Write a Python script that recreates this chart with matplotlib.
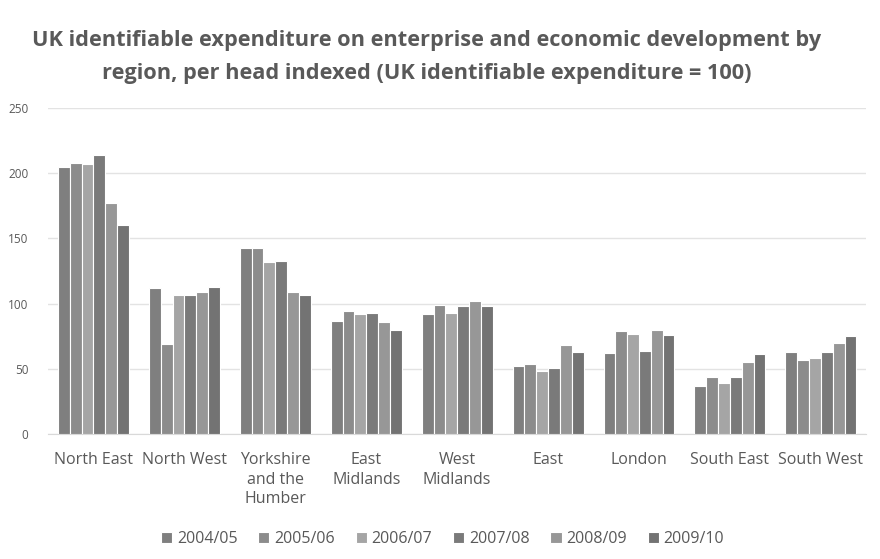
import numpy as np
import matplotlib
matplotlib.use("Agg")
import matplotlib.pyplot as plt

plt.rcParams['font.family'] = ['Open Sans', 'DejaVu Sans']

regions = ["North East", "North West", "Yorkshire\nand the\nHumber", "East\nMidlands",
           "West\nMidlands", "East", "London", "South East", "South West"]
years = ["2004/05", "2005/06", "2006/07", "2007/08", "2008/09", "2009/10"]
v0405 = [205, 112, 143, 87, 92, 52, 62, 37, 63]
v0506 = [208, 69, 143, 94, 99, 54, 79, 44, 57]
v0607 = [207, 107, 132, 92, 93, 48, 77, 39, 58]
v0708 = [214, 107, 133, 93, 98, 51, 64, 44, 63]
v0809 = [177, 109, 109, 86, 102, 68, 80, 55, 70]
v0910 = [160, 113, 107, 80, 98, 63, 76, 61, 75]
series = [v0405, v0506, v0607, v0708, v0809, v0910]
colors = ["#7f7f7f", "#8c8c8c", "#a5a5a5", "#7a7a7a", "#979797", "#737373"]

fig = plt.figure(figsize=(8.8, 5.59), dpi=100)
ax = fig.add_axes([0.0545, 0.2236, 0.93, 0.583])

x = np.arange(len(regions))
w = 0.13
for i, vals in enumerate(series):
    ax.bar(x + (i - 2.5) * w, vals, w, color=colors[i], edgecolor="white",
           linewidth=0.8, label=years[i], zorder=3)

ax.set_ylim(0, 250)
ax.set_xlim(-0.5, len(regions) - 0.5)
ax.set_yticks(range(0, 251, 50))
ax.grid(axis="y", color="#e3e3e3", linewidth=1, zorder=0)
for s in ["top", "right", "left"]:
    ax.spines[s].set_visible(False)
ax.spines["bottom"].set_color("#d9d9d9")
ax.tick_params(axis="both", length=0, colors="#595959")
ax.tick_params(axis="y", labelsize=8.5, pad=14)
ax.set_xticks(x)
ax.set_xticklabels(regions, fontsize=11.5, linespacing=1.3, va="top")
ax.tick_params(axis="x", pad=13)

fig.text(0.485, 0.898, "UK identifiable expenditure on enterprise and economic development by\n"
         "region, per head indexed (UK identifiable expenditure = 100)",
         ha="center", va="center", fontsize=15.7, fontweight="bold", color="#595959",
         linespacing=1.7)

fig.legend(loc="center", bbox_to_anchor=(0.503, 0.035), ncol=6, frameon=False,
           fontsize=11.5, handlelength=0.7, handleheight=0.7, handletextpad=0.3,
           columnspacing=1.3, labelcolor="#595959")

fig.savefig("out.png", dpi=100)
